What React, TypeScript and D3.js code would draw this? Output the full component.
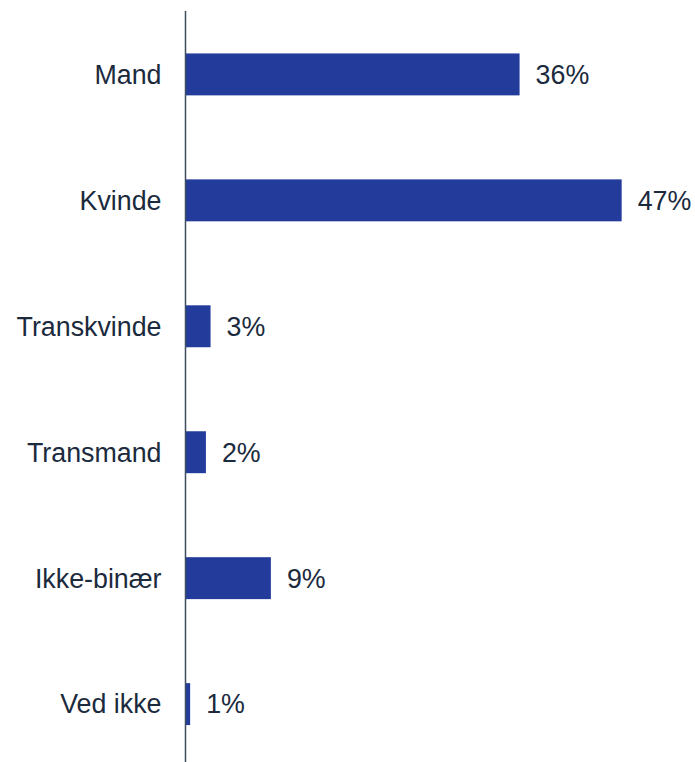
import * as d3 from 'd3';

const categories = ['Mand', 'Kvinde', 'Transkvinde', 'Transmand', 'Ikke-binær', 'Ved ikke'];
const values = [36, 47, 2.7, 2.2, 9.2, 0.5];
const valueLabels = ['36%', '47%', '3%', '2%', '9%', '1%'];

function App() {
  const width = 695;
  const height = 762;
  const axisX = 185.5;

  const x = d3.scaleLinear().domain([0, 50]).range([axisX, axisX + 464]);
  const y = d3
    .scaleBand<string>()
    .domain(categories)
    .range([11.5, 767])
    .paddingInner(0.667)
    .paddingOuter(0.333);

  const font = 'Liberation Sans, Arial, sans-serif';
  const textColor = '#1b2a3d';
  const fontSize = 26.8;

  return (
    <svg
      width={width}
      height={height}
      style={{ position: 'absolute', left: 0, top: 0 }}
      viewBox={`0 0 ${width} ${height}`}
    >
      <rect width={width} height={height} fill="#ffffff" />
      {categories.map((c, i) => {
        const yc = (y(c) ?? 0) + y.bandwidth() / 2;
        return (
          <g key={c}>
            <rect
              x={x(0)}
              y={y(c)}
              width={x(values[i]) - x(0)}
              height={y.bandwidth()}
              fill="#233c9c"
            />
            <text
              x={axisX - 24}
              y={yc}
              dy="0.35em"
              textAnchor="end"
              fontFamily={font}
              fontSize={fontSize}
              fill={textColor}
            >
              {c}
            </text>
            <text
              x={x(values[i]) + 16}
              y={yc}
              dy="0.35em"
              fontFamily={font}
              fontSize={fontSize}
              fill={textColor}
            >
              {valueLabels[i]}
            </text>
          </g>
        );
      })}
      <line x1={axisX} x2={axisX} y1={11} y2={height} stroke="#3d4c5e" strokeWidth={1.5} />
    </svg>
  );
}

export default App;
